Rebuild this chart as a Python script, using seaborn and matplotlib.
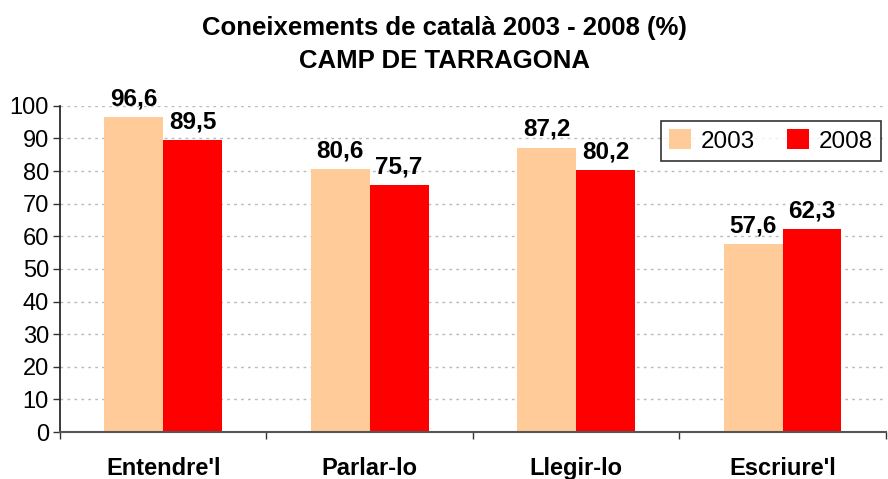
import matplotlib
matplotlib.use("Agg")
import matplotlib.pyplot as plt
import seaborn as sns
import pandas as pd

categories = ["Entendre'l", "Parlar-lo", "Llegir-lo", "Escriure'l"]
years = ["2003", "2008"]
values_2003 = [96.6, 80.6, 87.2, 57.6]
values_2008 = [89.5, 75.7, 80.2, 62.3]
title_line1 = "Coneixements de català 2003 - 2008 (%)"
title_line2 = "CAMP DE TARRAGONA"

df = pd.DataFrame({
    "cat": categories * 2,
    "year": [years[0]] * 4 + [years[1]] * 4,
    "val": values_2003 + values_2008,
})

sns.set_theme(style="white")
plt.rcParams['font.family'] = ['Liberation Sans', 'DejaVu Sans']
plt.rcParams['text.color'] = 'black'
plt.rcParams['axes.labelcolor'] = 'black'
plt.rcParams['xtick.color'] = 'black'
plt.rcParams['ytick.color'] = 'black'

fig = plt.figure(figsize=(8.88, 4.79), dpi=100)
ax = fig.add_axes([0.0676, 0.098, 0.93, 0.681])

palette = {"2003": "#FFCC99", "2008": "#FF0000"}
sns.barplot(data=df, x="cat", y="val", hue="year", order=categories,
            hue_order=years, palette=palette, width=0.57, saturation=1,
            ax=ax, linewidth=0, errorbar=None)

ax.set_ylim(0, 100)
ax.set_xlim(-0.5, 3.5)
ax.set_yticks(range(0, 101, 10))
ax.tick_params(axis='y', labelsize=17, length=5, width=1, direction='out',
               left=True, color='#333333', labelcolor='black', pad=3)
ax.yaxis.grid(True, linestyle=(0, (2, 3)), color='#BBBBBB', linewidth=1)
ax.set_axisbelow(True)

# x ticks: boundaries as major (marks), centers as minor (labels)
ax.set_xticks([-0.5, 0.5, 1.5, 2.5, 3.5])
ax.set_xticklabels([])
ax.tick_params(axis='x', which='major', length=5, width=1, bottom=True,
               direction='out', color='#333333')
ax.set_xticks([0, 1, 2, 3], minor=True)
ax.set_xticklabels(categories, minor=True, fontsize=17, fontweight='bold',
                   color='black')
ax.tick_params(axis='x', which='minor', length=0, pad=18)

for s in ['top', 'right']:
    ax.spines[s].set_visible(False)
ax.spines['left'].set_color('#222222')
ax.spines['bottom'].set_color('#555555')
ax.spines['bottom'].set_linewidth(1.5)
ax.set_xlabel("")
ax.set_ylabel("")

for cont in ax.containers:
    for bar in cont:
        h = bar.get_height()
        ax.annotate(f"{h:.1f}".replace(".", ","),
                    (bar.get_x() + bar.get_width() / 2, h),
                    xytext=(0, 8.5), textcoords='offset points',
                    ha='center', va='baseline', fontsize=17.5, fontweight='bold',
                    color='black', annotation_clip=False)

leg = ax.legend(title=None, loc='upper right', bbox_to_anchor=(0.994, 0.955),
                fontsize=17.5, frameon=True, fancybox=False, edgecolor='black',
                ncol=2, handlelength=0.9, handleheight=0.9, columnspacing=1.3,
                borderpad=0.35, handletextpad=0.4, borderaxespad=0)
leg.get_frame().set_linewidth(1.2)
for t in leg.get_texts():
    t.set_color('black')

fig.text(0.5, 1 - 35 / 479, title_line1, ha='center', va='baseline',
         fontsize=18.5, fontweight='bold', color='black')
fig.text(0.5, 1 - 68 / 479, title_line2, ha='center', va='baseline',
         fontsize=18.5, fontweight='bold', color='black')

fig.savefig("out.png", dpi=100)
